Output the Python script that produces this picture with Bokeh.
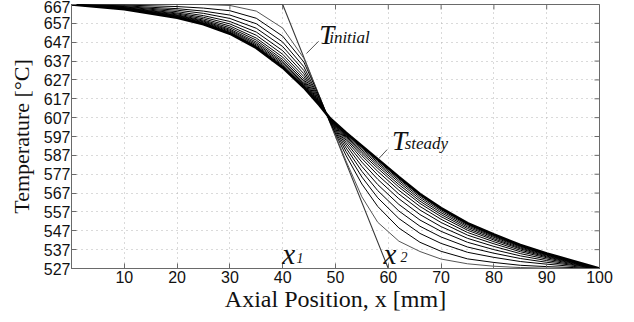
import math
from bokeh.plotting import figure
from bokeh.models import Range1d, FixedTicker, Label
from bokeh.embed import file_html
from bokeh.resources import INLINE

# ---- data ----
x_ticks = [10, 20, 30, 40, 50, 60, 70, 80, 90, 100]
y_ticks = [527, 537, 547, 557, 567, 577, 587, 597, 607, 617, 627, 637, 647, 657, 667]

x_init = [0, 40, 60, 100]
t_init = [667, 667, 527, 527]

x_pos = [0, 10, 20, 25, 30, 35, 40, 44, 47, 49, 52, 55, 58, 62, 66, 70, 75, 80, 85, 90, 95, 100]

t_steady = [667, 664.5, 660, 656.5, 651.5, 644, 633.5, 623, 613.5, 606.5, 599, 592, 585, 575.5, 566.5, 559, 551, 545, 539.5, 535, 531, 527]

t_01 = [667, 667, 667, 667, 666.5, 663.5, 654.5, 638.5, 618, 604.3, 584, 565, 551.5, 541.5, 536, 532, 529.5, 528.2, 527.5, 527.2, 527.05, 527]
t_02 = [667, 666.7, 665.9, 665.1, 663.7, 659.7, 650.2, 636.5, 617.8, 604.3, 586.9, 571.8, 559.9, 548.5, 540.9, 536.1, 532.1, 530.2, 528.7, 528.0, 527.5, 527]
t_03 = [667, 666.3, 664.8, 663.5, 661.4, 656.8, 647.1, 634, 617.0, 604.7, 589.1, 575.5, 564.5, 553.5, 545.6, 540.3, 535.6, 532.9, 530.7, 529.3, 528.1, 527]
t_04 = [667, 665.9, 664.0, 662.3, 659.6, 654.4, 644.7, 632, 616.4, 605.1, 590.9, 578.5, 568.3, 557.5, 549.4, 543.7, 538.4, 535.1, 532.3, 530.3, 528.7, 527]
t_05 = [667, 665.7, 663.2, 661.1, 658.0, 652.4, 642.5, 630.3, 615.8, 605.3, 592.5, 581.1, 571.5, 561.0, 552.7, 546.7, 540.9, 537.0, 533.7, 531.2, 529.1, 527]
t_06 = [667, 665.4, 662.5, 660.2, 656.7, 650.7, 640.6, 628.8, 615.3, 605.6, 593.8, 583.4, 574.3, 564.0, 555.6, 549.2, 543.0, 538.7, 534.9, 532.0, 529.5, 527]
t_07 = [667, 665.2, 662.0, 659.4, 655.6, 649.2, 639.1, 627.5, 614.9, 605.8, 595.0, 585.3, 576.6, 566.5, 558.0, 551.4, 544.7, 540.1, 535.9, 532.7, 529.8, 527]
t_08 = [667, 665.1, 661.5, 658.7, 654.7, 648.1, 637.8, 626.5, 614.6, 605.9, 595.9, 586.8, 578.5, 568.5, 559.9, 553.1, 546.1, 541.2, 536.7, 533.2, 530.1, 527]
t_09 = [667, 664.9, 661.2, 658.2, 653.9, 647.1, 636.8, 625.7, 614.4, 606.1, 596.6, 588.0, 580.1, 570.2, 561.5, 554.5, 547.3, 542.1, 537.4, 533.6, 530.3, 527]
t_10 = [667, 664.8, 660.9, 657.8, 653.3, 646.3, 636.0, 625.0, 614.1, 606.2, 597.2, 589.0, 581.3, 571.5, 562.7, 555.6, 548.2, 542.8, 537.9, 534.0, 530.5, 527]
t_11 = [667, 664.7, 660.6, 657.4, 652.8, 645.6, 635.2, 624.4, 613.9, 606.3, 597.7, 589.9, 582.4, 572.7, 563.8, 556.6, 549.0, 543.5, 538.4, 534.3, 530.6, 527]
t_12 = [667, 664.6, 660.4, 657.1, 652.3, 645.0, 634.6, 623.9, 613.8, 606.4, 598.2, 590.7, 583.3, 573.7, 564.8, 557.5, 549.7, 544.0, 538.8, 534.5, 530.8, 527]
t_13 = [667, 664.6, 660.2, 656.8, 652.0, 644.6, 634.1, 623.5, 613.7, 606.4, 598.6, 591.3, 584.1, 574.5, 565.6, 558.2, 550.3, 544.5, 539.1, 534.7, 530.9, 527]

transients = [t_02, t_03, t_04, t_05, t_06, t_07, t_08, t_09, t_10, t_11, t_12, t_13]

AX = "#6a6a6a"
X0, X1 = 0, 100
Y0, Y1 = 527, 667

p = figure(width=625, height=318,
           x_range=Range1d(X0, X1), y_range=Range1d(Y0, Y1),
           output_backend="svg", toolbar_location=None,
           min_border_left=71, min_border_right=26,
           min_border_top=4, min_border_bottom=50)
p.background_fill_color = "white"
p.border_fill_color = "white"
p.outline_line_color = AX
p.outline_line_width = 1

for ax, ticks in ((p.xaxis, x_ticks), (p.yaxis, y_ticks)):
    ax.ticker = FixedTicker(ticks=ticks)
    ax.major_tick_in = 5
    ax.major_tick_out = 0
    ax.minor_tick_line_color = None
    ax.axis_line_color = AX
    ax.major_tick_line_color = AX
    ax.major_label_text_font = "Liberation Sans"
    ax.major_label_text_font_size = "16px"
    ax.major_label_text_color = "#111111"
    ax.axis_label_text_font = "Liberation Serif"
    ax.axis_label_text_font_style = "normal"
    ax.axis_label_text_color = "#111111"

p.xaxis.axis_label = "Axial Position, x [mm]"
p.yaxis.axis_label = "Temperature [°C]"
p.xaxis.axis_label_text_font_size = "24px"
p.yaxis.axis_label_text_font_size = "22px"
p.xaxis.major_label_standoff = 2
p.yaxis.major_label_standoff = 1
p.xaxis.axis_label_standoff = 0
p.yaxis.axis_label_standoff = 7

for g in (p.xgrid, p.ygrid):
    g.grid_line_color = "#b4b4b4"
    g.grid_line_dash = "1 4"
    g.grid_line_width = 1

# inward ticks on the top and right edges of the box
p.scatter(x=x_ticks, y=[Y1] * len(x_ticks), marker="dash", size=10,
          angle=math.pi / 2, line_color=AX, line_width=1)
p.scatter(x=[X1] * len(y_ticks), y=y_ticks, marker="dash", size=10,
          line_color=AX, line_width=1)

# curves
p.line(x_init, t_init, line_color="#3a3a3a", line_width=1.1)
p.line(x_pos, t_01, line_color="#555555", line_width=1)
for t in transients:
    p.line(x_pos, t, line_color="black", line_width=1)
p.line(x_pos, t_steady, line_color="black", line_width=2.6)

# annotations
serif = "Liberation Serif"
def lab(x, y, text, size):
    p.add_layout(Label(x=x, y=y, text=text, text_font=serif,
                       text_font_style="italic", text_font_size=size,
                       text_baseline="alphabetic", text_align="left",
                       text_color="#111111"))

lab(46.9, 650.6, "T", "27px")
lab(48.8, 649.4, "initial", "17px")
lab(60.7, 594.4, "T", "27px")
lab(63.1, 593.2, "steady", "17px")
lab(39.9, 534.6, "x", "29px")
lab(42.6, 532.8, "1", "14px")
lab(59.1, 534.9, "x", "29px")
lab(62.3, 533.1, "2", "14px")

p.segment(x0=[46.8, 59.8], y0=[647.5, 590.1], x1=[44.5, 58.2], y1=[641.0, 585.3],
          line_color="#555555", line_width=1)

open("out.html", "w").write(file_html(p, INLINE))
